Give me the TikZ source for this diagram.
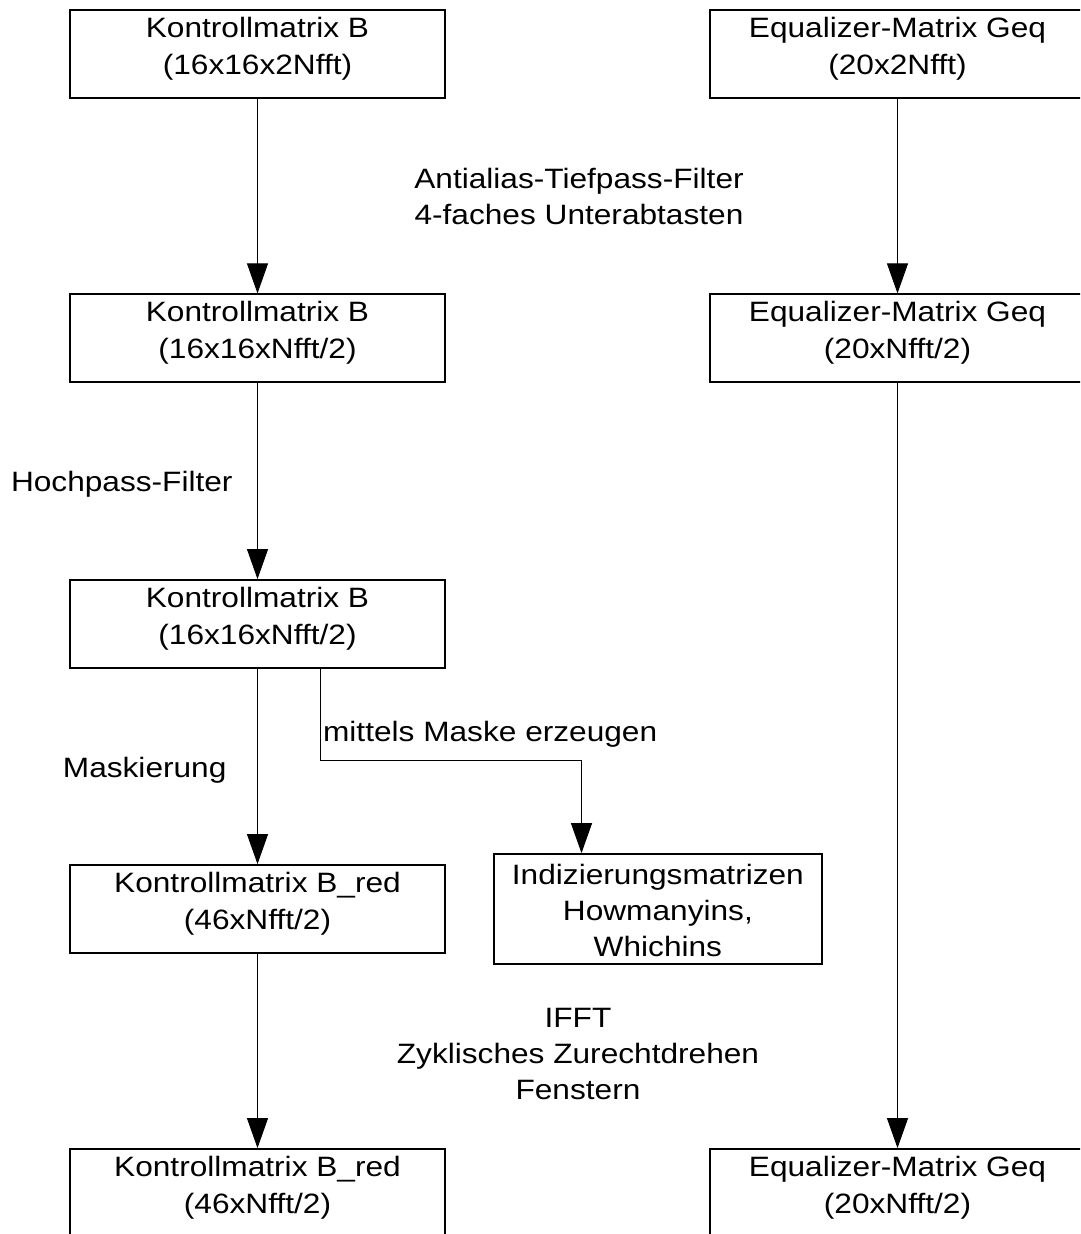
\documentclass[tikz,border=0pt]{standalone}
\usepackage{fontspec}
\setmainfont{Liberation Sans}[FakeStretch=1.13]
\usetikzlibrary{arrows.meta}
\newcommand\tstrut{\rule{0pt}{24pt}}
\newcommand\bstrut[1]{\rule[-#1]{0pt}{#1}}
\begin{document}
\begin{tikzpicture}[x=1pt,y=-1pt,
  box/.style={draw=black,line width=1.8pt,minimum width=375pt,minimum height=88pt,
    inner sep=0pt,align=center,font=\fontsize{28pt}{37pt}\selectfont},
  lbl/.style={inner sep=0pt,align=center,font=\fontsize{28pt}{36pt}\selectfont},
  conn/.style={draw=black,line width=1pt,-{Triangle[width=21pt,length=30pt]}}]
\clip (0,0) rectangle (1080,1234);
\fill[white] (0,0) rectangle (1080,1234);
% left column
\node[box] (b1) at (257.5,53.6) {\tstrut Kontrollmatrix B\\(16x16x2Nfft)\bstrut{20pt}};
\node[box] (b2) at (257.5,338.3) {\tstrut Kontrollmatrix B\\(16x16xNfft/2)\bstrut{20pt}};
\node[box] (b3) at (257.5,624) {\tstrut Kontrollmatrix B\\(16x16xNfft/2)\bstrut{20pt}};
\node[box] (b4) at (257.5,909) {\tstrut Kontrollmatrix B\_red\\(46xNfft/2)\bstrut{20pt}};
\node[box] (b5) at (257.5,1193) {\tstrut Kontrollmatrix B\_red\\(46xNfft/2)\bstrut{20pt}};
% right column
\node[box] (r1) at (897.5,53.6) {\tstrut Equalizer-Matrix Geq\\(20x2Nfft)\bstrut{20pt}};
\node[box] (r2) at (897.5,338.3) {\tstrut Equalizer-Matrix Geq\\(20xNfft/2)\bstrut{20pt}};
\node[box] (r5) at (897.5,1193) {\tstrut Equalizer-Matrix Geq\\(20xNfft/2)\bstrut{20pt}};
% index box
\node[box,minimum width=327.7pt,minimum height=110.3pt,font=\fontsize{28pt}{36pt}\selectfont] (ind) at (657.9,909.2)
  {\tstrut Indizierungsmatrizen\\Howmanyins,\\Whichins\bstrut{1.4pt}};
% labels
\node[lbl,anchor=north,font=\fontsize{28pt}{35.5pt}\selectfont] (t1) at (579,164.3)
  {\tstrut Antialias-Tiefpass-Filter\\4-faches Unterabtasten};
\node[lbl,anchor=base west] (t2) at (10.8,491.7) {Hochpass-Filter};
\node[lbl,anchor=base west] (t3) at (322.9,741.5) {mittels Maske erzeugen};
\node[lbl,anchor=base west] (t4) at (62.7,777) {Maskierung};
\node[lbl,anchor=north] (t5) at (578,1003)
  {\tstrut IFFT\\Zyklisches Zurechtdrehen\\Fenstern};
% connectors
\draw[conn] (b1) -- (b2);
\draw[conn] (b2) -- (b3);
\draw[conn] (b3) -- (b4);
\draw[conn] (b4) -- (b5);
\draw[conn] (r1) -- (r2);
\draw[conn] (r2) -- (r5);
\coordinate (k1) at (320,760.7);
\coordinate (k2) at (581.5,760.7);
\draw[conn] (b3.south -| k1) -- (k1) -- (k2) -- (k2 |- ind.north);
\end{tikzpicture}
\end{document}
